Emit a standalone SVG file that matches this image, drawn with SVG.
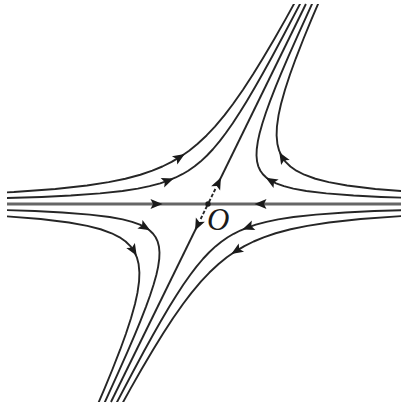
<svg xmlns="http://www.w3.org/2000/svg" width="405" height="408" viewBox="0 0 405 408">
<style>
.traj{fill:none;stroke:#262626;stroke-width:1.9;stroke-linejoin:round;vector-effect:non-scaling-stroke}
.axis{fill:none;stroke:#666;stroke-width:2.8}
.man{fill:none;stroke:#262626;stroke-width:1.9}
.dash{stroke-dasharray:3.5 2}
.ah{fill:#1a1a1a}
.lbl{font-family:"Liberation Serif","Times New Roman",serif;font-style:italic;font-size:31px;fill:#1a1a1a}
</style>
<defs>
<clipPath id="frame"><rect x="7" y="4" width="394" height="398"/></clipPath>
<polyline id="hyp" class="traj" points="-400,6 -300,8 -240,10 -200,12 -160,15 -130,18.46 -110,21.82 -95,25.26 -82,29.27 -72,33.33 -64,37.5 -57,42.11 -51,47.06 -45,53.33 -40,60 -35,68.57 -31,77.42 -27,88.89 -24,100 -21,114.29 -18.5,129.73 -16.5,145.45 -14.5,165.52 -13,184.62 -11.5,208.7 -10,240 -8.5,282.35 -7.5,320"/>
<polygon id="arr" points="5.5,0 -6.5,-5 -4,0 -6.5,5"/>
</defs>

<g id="trajectories" clip-path="url(#frame)">
<use href="#hyp" transform="matrix(1,0,0.49,-1,208,204)"/>
<use href="#hyp" transform="matrix(1,0,0.49,-1,208,204) scale(0.7071)"/>
<use href="#hyp" transform="matrix(1,0,0.49,-1,208,204) scale(-1,1)"/>
<use href="#hyp" transform="matrix(1,0,0.49,-1,208,204) scale(-0.7071,0.7071)"/>
<use href="#hyp" transform="matrix(1,0,0.49,-1,208,204) scale(-1,-1)"/>
<use href="#hyp" transform="matrix(1,0,0.49,-1,208,204) scale(-0.7071,-0.7071)"/>
<use href="#hyp" transform="matrix(1,0,0.49,-1,208,204) scale(1,-1)"/>
<use href="#hyp" transform="matrix(1,0,0.49,-1,208,204) scale(0.7071,-0.7071)"/>
</g>

<g id="stable-axis">
<line class="axis" x1="7" y1="204" x2="401" y2="204"/>
</g>

<g id="unstable-manifold">
<line class="man" x1="218.78" y1="182" x2="305.9" y2="4"/>
<line class="man dash" x1="208.98" y1="202" x2="215.84" y2="188"/>
<line class="man" x1="197.22" y1="226" x2="110.98" y2="402"/>
<line class="man dash" x1="207.02" y1="206" x2="200.16" y2="220"/>
</g>

<g id="arrowheads" class="ah">
<use href="#arr" transform="translate(157,204)"/>
<use href="#arr" transform="translate(260,204) rotate(180)"/>
<use href="#arr" transform="translate(218.5,182.5) rotate(-63.9)"/>
<use href="#arr" transform="translate(197.5,225.5) rotate(116.1)"/>
<use href="#arr" transform="translate(180.1,156.9) rotate(-32.4)"/>
<use href="#arr" transform="translate(168.5,180.5) rotate(-20.6)"/>
<use href="#arr" transform="translate(282.1,156.9) rotate(-120.7)"/>
<use href="#arr" transform="translate(270.5,180.5) rotate(-149.2)"/>
<use href="#arr" transform="translate(235.9,251.1) rotate(147.6)"/>
<use href="#arr" transform="translate(247.5,227.5) rotate(159.4)"/>
<use href="#arr" transform="translate(133.9,251.1) rotate(59.3)"/>
<use href="#arr" transform="translate(145.5,227.5) rotate(30.8)"/>
</g>

<g id="saddle-O">
<circle cx="208" cy="204" r="2.7" fill="#1a1a1a"/>
<text class="lbl" x="207" y="230">O</text>
</g>
</svg>
